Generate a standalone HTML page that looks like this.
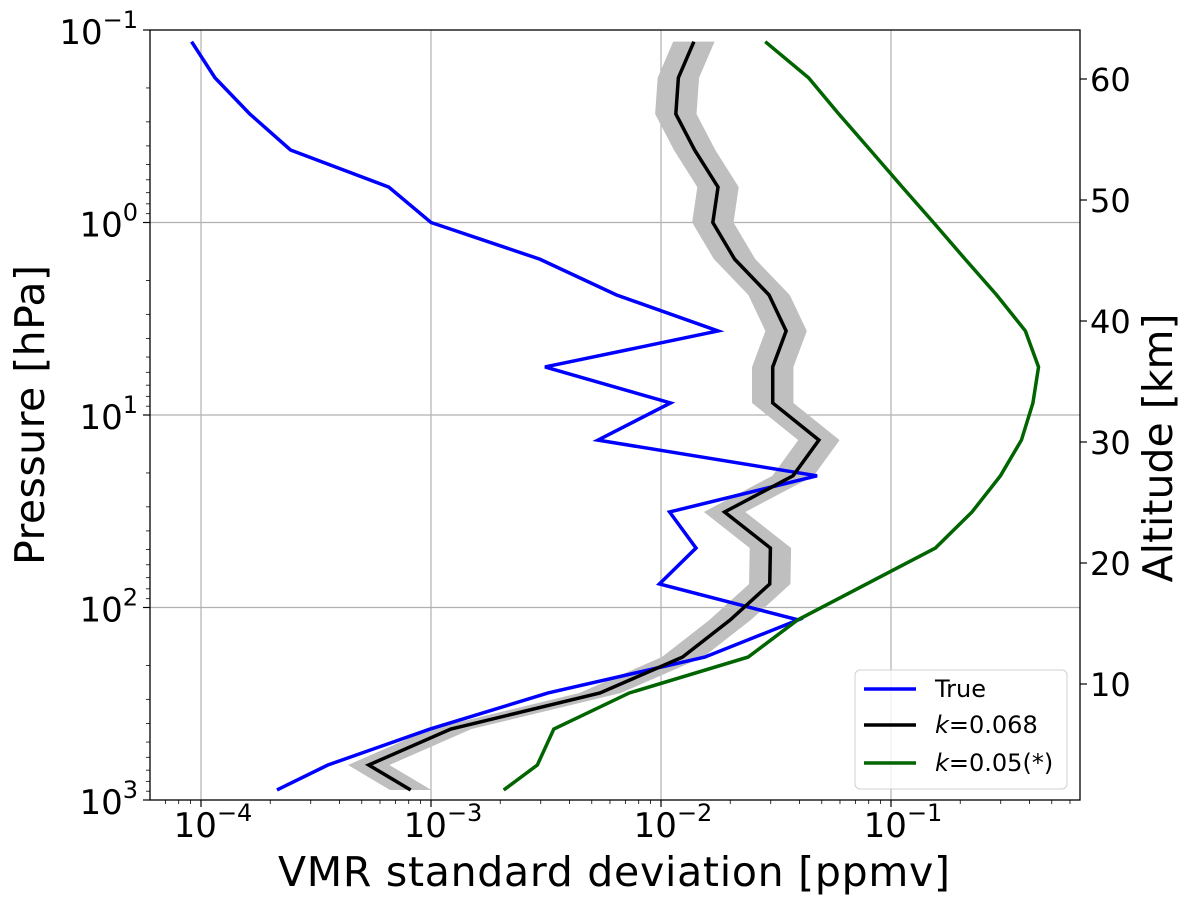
<!DOCTYPE html>
<html><head><meta charset="utf-8"><style>
body{margin:0;background:#fff}
svg text{font-family:"DejaVu Sans","Liberation Sans",sans-serif}
</style></head><body>
<svg id="chart" width="1190" height="905" xmlns="http://www.w3.org/2000/svg">
<g id="grid"></g>
<g id="series"></g>
<g id="axes"></g>
<text x="614" y="886" font-size="41" text-anchor="middle" textLength="672">VMR standard deviation [ppmv]</text>
<text transform="translate(44,415) rotate(-90)" font-size="41" text-anchor="middle" textLength="300">Pressure [hPa]</text>
<text transform="translate(1172,448) rotate(-90)" font-size="41" text-anchor="middle">Altitude [km]</text>
<g>
<rect x="855" y="670" width="212" height="119" rx="5" fill="#fff" fill-opacity="0.8" stroke="#d0d0d0"/>
<line x1="864" y1="689" x2="916" y2="689" stroke="#0000ff" stroke-width="3.5"/>
<text x="935" y="697" font-size="24">True</text>
<line x1="864" y1="725" x2="916" y2="725" stroke="#000" stroke-width="3.5"/>
<text x="935" y="733" font-size="24"><tspan font-style="italic">k</tspan>=0.068</text>
<line x1="864" y1="763" x2="916" y2="763" stroke="#006400" stroke-width="3.5"/>
<text x="935" y="771" font-size="24"><tspan font-style="italic">k</tspan>=0.05(*)</text>
</g>
</svg>
<script>
const pressure=[0.115,0.177,0.273,0.42,0.655,1.0,1.55,2.38,3.66,5.63,8.66,13.5,20.7,31.9,49.1,75.5,116,181,278,428,658,887];
const trueVals=[9.1e-5,1.15e-4,1.63e-4,2.45e-4,6.56e-4,1.0e-3,2.97e-3,6.41e-3,1.77e-2,3.13e-3,1.10e-2,5.32e-3,4.77e-2,1.09e-2,1.42e-2,9.84e-3,3.95e-2,1.55e-2,3.23e-3,9.9e-4,3.56e-4,2.14e-4];
const k068Vals=[1.39e-2,1.19e-2,1.16e-2,1.40e-2,1.77e-2,1.68e-2,2.09e-2,2.95e-2,3.50e-2,3.06e-2,3.06e-2,4.86e-2,3.75e-2,1.89e-2,2.99e-2,2.97e-2,2.00e-2,1.24e-2,5.43e-3,1.22e-3,5.36e-4,8.16e-4];
const greenPressure=[0.115,0.177,0.273,0.42,0.655,1.0,1.55,2.38,3.66,5.63,8.66,13.5,20.7,31.9,49.1,116,181,278,428,658,887];
const k05Vals=[2.84e-2,4.38e-2,5.93e-2,8.12e-2,0.112,0.153,0.210,0.288,0.384,0.438,0.414,0.369,0.299,0.225,0.156,3.93e-2,2.39e-2,7.28e-3,3.42e-3,2.90e-3,2.07e-3];
const bandHalfDecades=0.09;
const xTickExps=[-4,-3,-2,-1];
const yTickExps=[-1,0,1,2,3];
const altTicks=[10,20,30,40,50,60];

const NS="http://www.w3.org/2000/svg";
const L=150,R=1080,T=30,B=800;
const xs=v=>201+(Math.log10(v)+4)*230;
const ys=p=>30+(Math.log10(p)+1)*192.5;
const alt=a=>805-a*12.1;
function mk(tag,attrs,parent){const e=document.createElementNS(NS,tag);for(const k in attrs)e.setAttribute(k,attrs[k]);parent.appendChild(e);return e;}
const grid=document.getElementById('grid'),series=document.getElementById('series'),axes=document.getElementById('axes');

xTickExps.forEach(e=>{const x=xs(Math.pow(10,e));
 const g=mk('line',{x1:x,x2:x,y1:T,y2:B,stroke:'#b0b0b0','stroke-width':1.2},grid);
 
 
 const t=mk('line',{x1:x,x2:x,y1:B,y2:B+7,stroke:'#000','stroke-width':1.2},axes);
 
 
 const tx=mk('text',{x:x+12,y:B+37,'font-size':34,'text-anchor':'middle'},axes);
 
 
 tx.innerHTML='10<tspan font-size="24" dy="-16">\u2212'+Math.abs(e)+'</tspan>';
});
for(let e=-5;e<0;e++){for(let m=2;m<10;m++){const x=xs(m*Math.pow(10,e));if(x<L||x>R)continue;
 const t=mk('line',{x1:x,x2:x,y1:B,y2:B+4,stroke:'#000','stroke-width':0.8},axes);
 
 }}
yTickExps.forEach(e=>{const y=ys(Math.pow(10,e));
 if(e>-1&&e<3){const g=mk('line',{x1:L,x2:R,y1:y,y2:y,stroke:'#b0b0b0','stroke-width':1.2},grid);
 
 }
 const t=mk('line',{x1:L-7,x2:L,y1:y,y2:y,stroke:'#000','stroke-width':1.2},axes);
 
 
 const tx=mk('text',{x:138,y:y+14,'font-size':34,'text-anchor':'end'},axes);
 
 
 tx.innerHTML='10<tspan font-size="24" dy="-16">'+(e<0?'\u2212'+Math.abs(e):e)+'</tspan>';
 if(e<3)for(let m=2;m<10;m++){const yy=ys(m*Math.pow(10,e));
  const mt=mk('line',{x1:L-4,x2:L,y1:yy,y2:yy,stroke:'#000','stroke-width':0.8},axes);
  
  }
});
altTicks.forEach(a=>{const y=alt(a);
 const t=mk('line',{x1:R,x2:R+7,y1:y,y2:y,stroke:'#000','stroke-width':1.2},axes);
 
 
 const tx=mk('text',{x:R+10,y:y+12,'font-size':32},axes);
 
 
 tx.textContent=a;
});
const frame=mk('rect',{x:L,y:T,width:R-L,height:B-T,fill:'none',stroke:'#000','stroke-width':1.3},axes);



const f=Math.pow(10,bandHalfDecades);
let bp=pressure.map((p,i)=>xs(k068Vals[i]*f)+','+ys(p));
bp=bp.concat(pressure.map((p,i)=>xs(k068Vals[i]/f)+','+ys(p)).reverse());
const band=mk('polygon',{points:bp.join(' '),fill:'#bfbfbf',stroke:'none'},series);


function line(vals,pr,color,name){
 const pl=mk('polyline',{points:vals.map((v,i)=>xs(v)+','+ys(pr[i])).join(' '),fill:'none',stroke:color,'stroke-width':3.5,'stroke-linejoin':'miter'},series);
 
 
}
line(trueVals,pressure,'#0000ff','true-line');
line(k068Vals,pressure,'#000000','k068-line');
line(k05Vals,greenPressure,'#006400','k05-line');
</script>
</body></html>
